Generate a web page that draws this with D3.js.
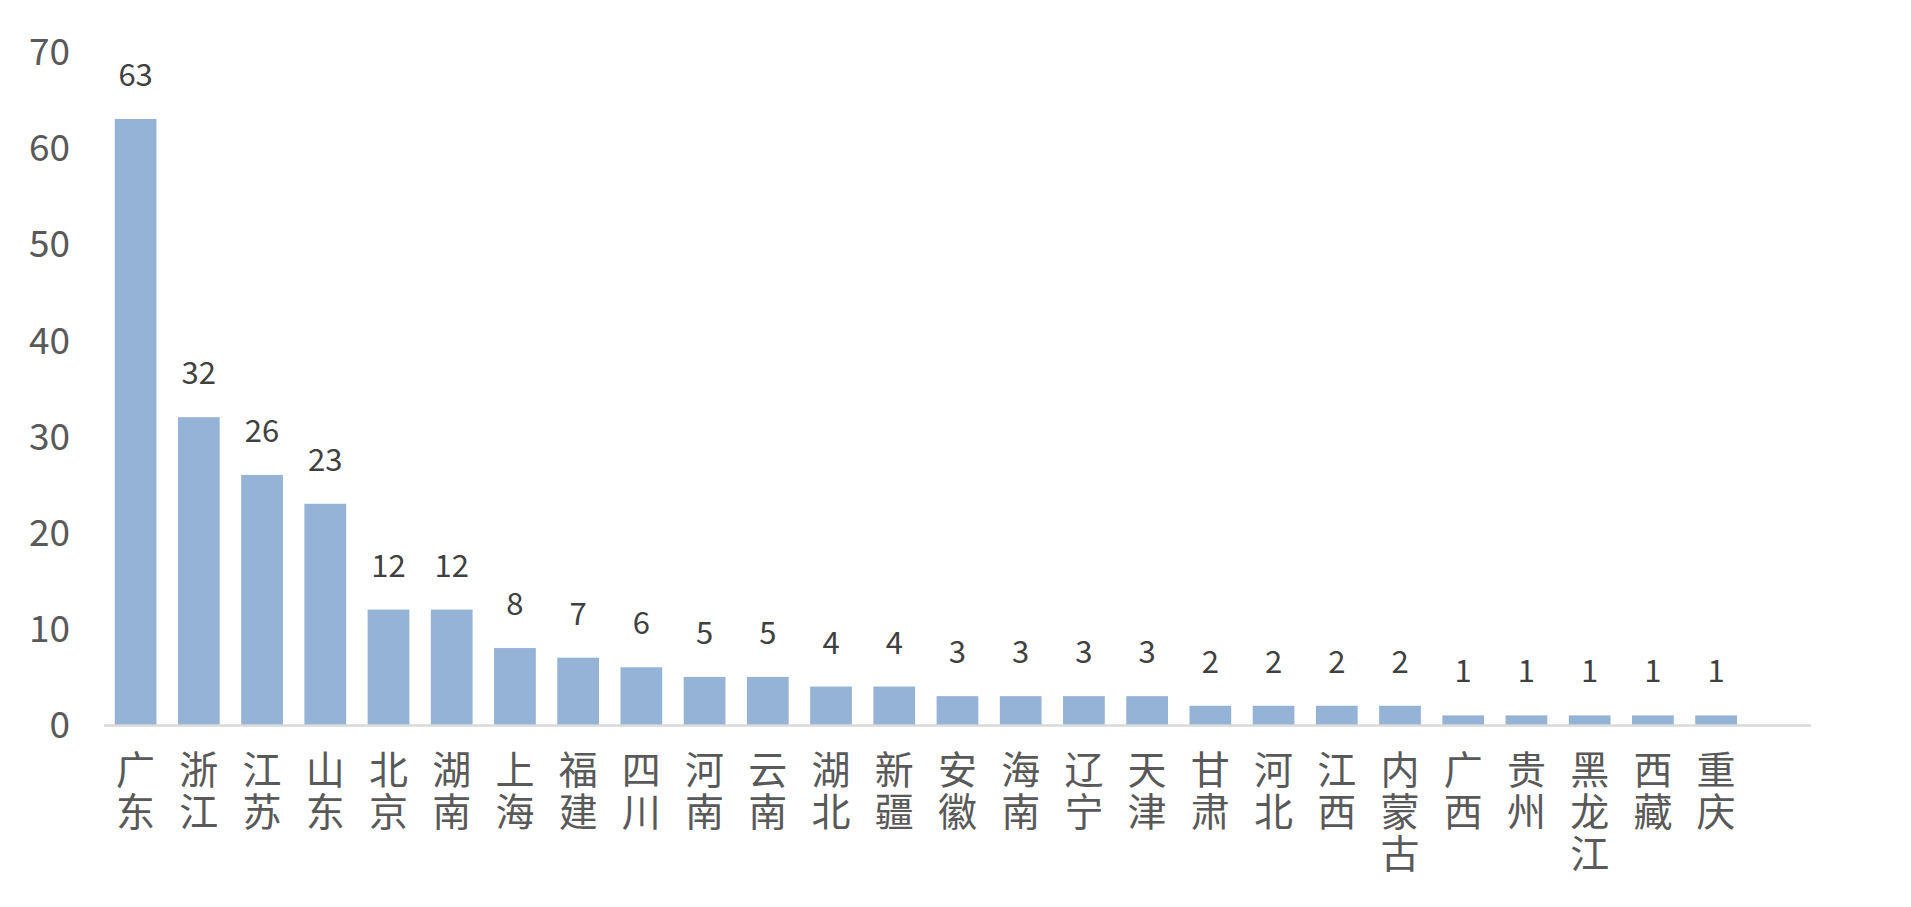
<!DOCTYPE html>
<html><head><meta charset="utf-8">
<script src="https://cdn.jsdelivr.net/npm/d3@7"></script>
<style>html,body{margin:0;padding:0;background:#fff;overflow:hidden}</style>
</head><body><svg id="c" width="1911" height="907"></svg>
<script>
const categories = ["广东","浙江","江苏","山东","北京","湖南","上海","福建","四川","河南","云南","湖北","新疆","安徽","海南","辽宁","天津","甘肃","河北","江西","内蒙古","广西","贵州","黑龙江","西藏","重庆"];
const values = [63,32,26,23,12,12,8,7,6,5,5,4,4,3,3,3,3,2,2,2,2,1,1,1,1,1];
const yTicks = [0,10,20,30,40,50,60,70];

const svg = d3.select("#c");
const font = "'Noto Sans CJK SC','Noto Sans',sans-serif";
const step = 63.22;
const x0 = 104;
const x = d3.scaleBand().domain(categories).range([x0, x0 + step*categories.length]).paddingInner(0.34).paddingOuter(0.17);
const y = d3.scaleLinear().domain([0,70]).range([725, 725-70*9.619]);

// bars
svg.append("g").selectAll("rect").data(values).join("rect")
  .attr("x",(d,i)=>x(categories[i]))
  .attr("y",d=>y(d))
  .attr("width",x.bandwidth())
  .attr("height",d=>y(0)-y(d))
  .attr("fill","#95B3D7");

// axis line
svg.append("line").attr("x1",x0).attr("x2",x0+step*(categories.length+1)).attr("y1",y(0)+0.5).attr("y2",y(0)+0.5)
  .attr("stroke","#D9D9D9").attr("stroke-width",2.5);

// y tick labels
svg.append("g").selectAll("text").data(yTicks).join("text")
  .attr("x",70).attr("y",d=>y(d)).attr("dy","0.36em")
  .attr("text-anchor","end").attr("font-family",font).attr("font-size",37).attr("fill","#595959")
  .text(d=>d);

// data labels
svg.append("g").selectAll("text").data(values).join("text")
  .attr("x",(d,i)=>x(categories[i])+x.bandwidth()/2).attr("y",d=>y(d)-33)
  .attr("text-anchor","middle").attr("font-family",font).attr("font-size",31).attr("fill","#404040")
  .text(d=>d);

// category labels (vertical, one char per line)
const cg = svg.append("g");
categories.forEach((c,i)=>{
  const t = cg.append("text").attr("text-anchor","middle").attr("font-family",font).attr("font-size",39).attr("fill","#595959");
  Array.from(c).forEach((ch,j)=>{
    t.append("tspan").attr("x",x(c)+x.bandwidth()/2).attr("y",770+j*42).attr("dy","0.36em").text(ch);
  });
});
</script></body></html>
